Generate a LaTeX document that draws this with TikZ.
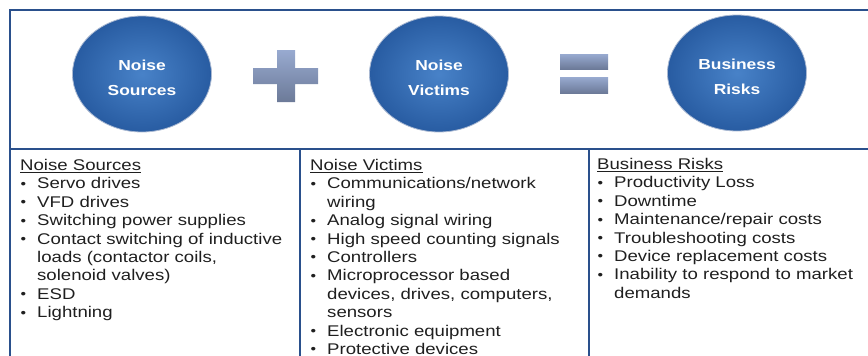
\documentclass[tikz,border=0pt]{standalone}
\usepackage{fontspec}
\setmainfont[FakeStretch=1.2]{Liberation Sans}
\usetikzlibrary{shapes.geometric}

\definecolor{frameblue}{RGB}{42,80,140}
\definecolor{ballin}{RGB}{72,130,200}
\definecolor{ballout}{RGB}{40,92,162}
\definecolor{ballrim}{RGB}{170,185,210}
\definecolor{signtop}{RGB}{152,170,208}
\definecolor{signbot}{RGB}{108,122,152}

\newcommand{\bul}{\makebox[17pt][l]{\hspace{0.5pt}\raisebox{0.5pt}{\scalebox{0.85}{\textbullet}}}}
\newcommand{\cont}{\hspace*{17pt}}

\begin{document}
\begin{tikzpicture}
[x=1pt, y=-1pt, every node/.style={inner sep=0pt},
 ball/.style={ellipse, minimum width=139pt, minimum height=116pt, inner color=ballin, outer color=ballout, draw=ballrim, line width=0.8pt, text=white, font=\fontsize{14.5}{25}\selectfont\bfseries, align=center},
 list/.style={anchor=north west, align=left, font=\fontsize{15.5}{18.4}\selectfont, text=black!88}]
\useasboundingbox (0,0) rectangle (868,356);
\clip (0,0) rectangle (868,356);

% frame
\draw [line width=2pt, color=frameblue] (10,10) rectangle (900,420);
\draw [line width=2pt, color=frameblue] (10,149) -- (900,149);
\draw [line width=1.6pt, color=frameblue] (300,149) -- (300,420);
\draw [line width=1.6pt, color=frameblue] (589,149) -- (589,420);

% top row
\node (src) [ball] at (142,74) {\rule{0pt}{18pt}Noise\\Sources};
\node (vic) [ball] at (439,74) {\rule{0pt}{18pt}Noise\\Victims};
\node (risk) [ball] at (737,73) {\rule{0pt}{18pt}Business\\Risks};
\shade [top color=signtop, bottom color=signbot] (277,50) -- (295,50) -- (295,68) -- (318,68) -- (318,84) -- (295,84) -- (295,102) -- (277,102) -- (277,84) -- (253,84) -- (253,68) -- (277,68) -- cycle;
\shade [top color=signtop, bottom color=signbot] (560,54) rectangle (608,69);
\shade [top color=signtop, bottom color=signbot] (560,77) rectangle (608,93);

% lists
\node (srclist) [list] at (20,159) {\underline{Noise Sources}\\
\bul Servo drives\\
\bul VFD drives\\
\bul Switching power supplies\\
\bul Contact switching of inductive\\
\cont loads (contactor coils,\\
\cont solenoid valves)\\
\bul ESD\\
\bul Lightning};
\node (viclist) [list] at (310,159) {\underline{Noise Victims}\\
\bul Communications/network\\
\cont wiring\\
\bul Analog signal wiring\\
\bul High speed counting signals\\
\bul Controllers\\
\bul Microprocessor based\\
\cont devices, drives, computers,\\
\cont sensors\\
\bul Electronic equipment\\
\bul Protective devices};
\node (risklist) [list] at (597,158) {\underline{Business Risks}\\
\bul Productivity Loss\\
\bul Downtime\\
\bul Maintenance/repair costs\\
\bul Troubleshooting costs\\
\bul Device replacement costs\\
\bul Inability to respond to market\\
\cont demands};
\end{tikzpicture}
\end{document}
